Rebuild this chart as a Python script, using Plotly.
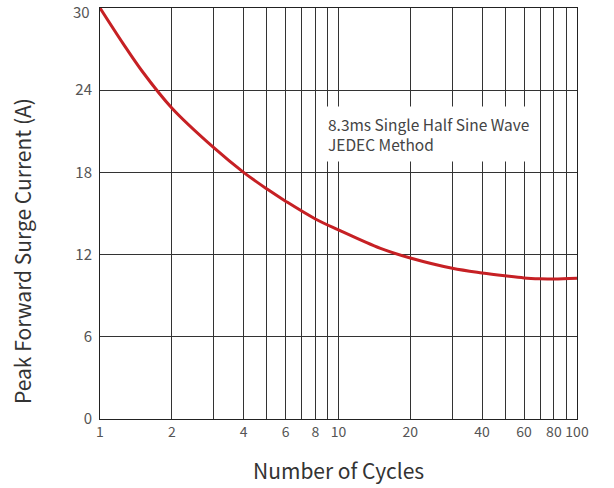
import plotly.graph_objects as go

cycles = [1, 1.25, 1.5, 2, 3, 4, 5, 6, 8, 10, 15, 20, 30, 40, 50, 60, 70, 80, 100]
current = [30, 27.4, 25.4, 22.7, 19.8, 18.0, 16.8, 15.9, 14.6, 13.8, 12.45, 11.75, 11.0, 10.66, 10.45, 10.3, 10.24, 10.22, 10.27]

grid_vals = [1, 2, 3, 4, 5, 6, 7, 8, 9, 10, 20, 30, 40, 50, 60, 70, 80, 90, 100]
grid_text = ["1", "2", "", "4", "", "6", "", "8", "", "10", "20", "", "40", "", "60", "", "80", "", "100"]
y_ticks = [0, 6, 12, 18, 24, 30]
y_text = ["0", "6", "12", "18", "24", ""]  # top label "30" drawn below as annotation so it is not clipped
y_top_label = "30"

FONT = "Noto Sans CJK SC"
TICK_FONT = dict(size=15, color="#555555", family=FONT)
XTICK_FONT = dict(size=14, color="#555555", family=FONT)

fig = go.Figure()
fig.add_trace(go.Scatter(
    x=cycles, y=current, mode="lines",
    line=dict(color="#c62024", width=3, shape="spline", smoothing=1.0),
    showlegend=False, hoverinfo="skip", cliponaxis=False,
))

fig.update_layout(
    width=614, height=488,
    margin=dict(l=100, r=37, t=8, b=69),
    paper_bgcolor="white", plot_bgcolor="white",
    font=dict(family=FONT, color="#444444", size=14),
    xaxis=dict(
        type="log", range=[0, 2],
        tickvals=grid_vals, ticktext=grid_text,
        showgrid=True, gridcolor="#333333", gridwidth=1,
        showline=True, linecolor="#222222", linewidth=1, mirror=True,
        ticks="", ticklen=0, automargin=False, ticklabeloverflow="allow",
        tickfont=XTICK_FONT,
        zeroline=False,
    ),
    yaxis=dict(
        range=[0, 30],
        tickvals=y_ticks, ticktext=y_text,
        showgrid=True, gridcolor="#333333", gridwidth=1,
        showline=True, linecolor="#222222", linewidth=1, mirror=True,
        ticks="", ticklen=0, automargin=False, ticklabeloverflow="allow",
        ticklabelstandoff=4,
        tickfont=TICK_FONT,
        zeroline=False,
    ),
)

fig.add_annotation(
    x=(92 - 100) / 477, y=y_ticks[-1], xref="paper", yref="y",
    text=y_top_label, showarrow=False, xanchor="right", yanchor="middle",
    yshift=-3, font=TICK_FONT,
)

# axis titles
fig.add_annotation(
    x=0.5, y=(419 - 470) / 411, xref="paper", yref="paper",
    text="Number of Cycles", showarrow=False,
    xanchor="center", yanchor="middle",
    font=dict(size=21, color="#333333", family=FONT),
)
fig.add_annotation(
    x=(22 - 100) / 477, y=(419 - 251) / 411, xref="paper", yref="paper",
    text="Peak Forward Surge Current (A)", showarrow=False, textangle=-90,
    xanchor="center", yanchor="middle",
    font=dict(size=21, color="#333333", family=FONT),
)

fig.add_annotation(
    x=0.925, y=20.77, xref="x", yref="y",
    text="8.3ms Single Half Sine Wave<br>JEDEC Method",
    showarrow=False, xanchor="left", yanchor="middle", align="left",
    bgcolor="white", borderpad=6,
    font=dict(size=15.5, color="#444444", family=FONT),
)

fig.write_html(
    "out.html",
    config={"displayModeBar": False},
    post_script="document.body.style.margin='0';document.body.style.overflow='hidden';",
)
